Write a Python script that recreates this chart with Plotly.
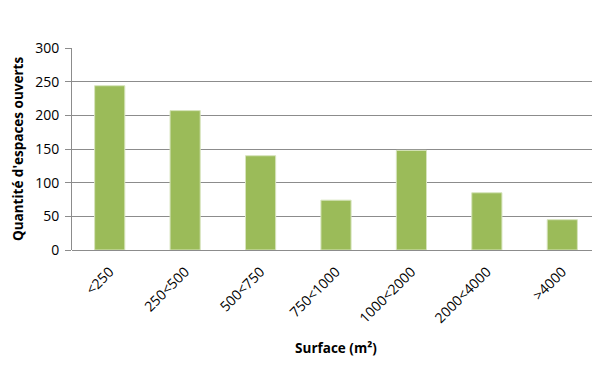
import plotly.graph_objects as go

categories = ["<250", "250<500", "500<750", "750<1000", "1000<2000", "2000<4000", ">4000"]
values = [244, 207, 140, 74, 148, 85, 45]
y_ticks = [0, 50, 100, 150, 200, 250, 300]

fig = go.Figure(go.Bar(
    x=categories, y=values,
    marker=dict(color="#9BBB59", line=dict(color="#D7E4BD", width=1)),
    width=0.4,
))

font_family = "Open Sans"
fig.update_layout(
    width=600, height=370,
    margin=dict(l=64, r=8, t=40, b=128),
    plot_bgcolor="white", paper_bgcolor="white",
    showlegend=False,
    font=dict(family=font_family, size=14, color="#000000"),
)
fig.update_xaxes(
    tickangle=-45, showline=False, showgrid=False, ticks="",
    tickfont=dict(size=14),
    ticklabelstandoff=10,
    title=dict(text="<b>Surface (m²)</b>", font=dict(size=13.5), standoff=17),
)
fig.update_yaxes(
    range=[0, 300], tickvals=y_ticks,
    showgrid=True, gridcolor="#8C8C8C", gridwidth=1,
    showline=True, linecolor="#8C8C8C", linewidth=1,
    ticks="outside", ticklen=6, tickcolor="#8C8C8C",
    tickfont=dict(size=14),
    ticklabelstandoff=3,
    zeroline=True, zerolinecolor="#8C8C8C", zerolinewidth=1,
    title=dict(text="<b>Quantité d'espaces ouverts</b>", font=dict(size=13.5), standoff=8),
)
fig.write_html("out.html")
